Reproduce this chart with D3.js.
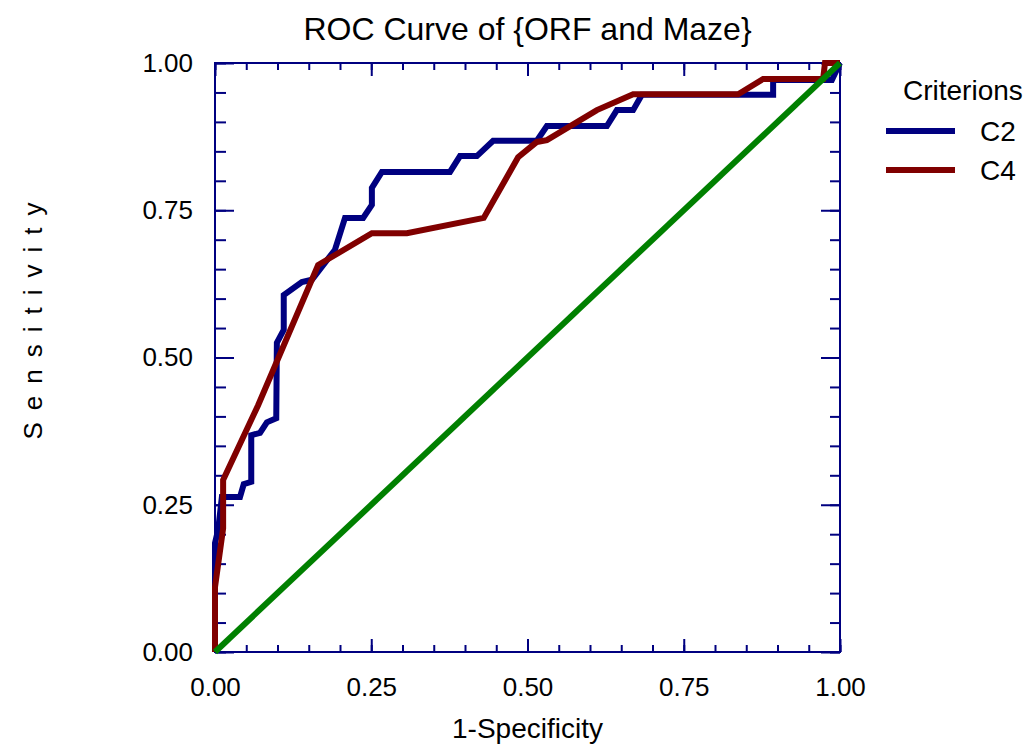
<!DOCTYPE html>
<html>
<head>
<meta charset="utf-8">
<script src="https://cdn.jsdelivr.net/npm/d3@7"></script>
<style>
  body { margin: 0; background: #fff; }
  text { font-family: "Liberation Sans", Arial, sans-serif; fill: #000; }
</style>
</head>
<body>
<div id="chart"></div>
<script>
var svgWidth = 1033;
var svgHeight = 751;

var margin = { top: 63, right: 193, bottom: 99, left: 215 };
var width = svgWidth - margin.left - margin.right;
var height = svgHeight - margin.top - margin.bottom;

// ROC points: [1-specificity, sensitivity]
var c2Points = [
  [0, 0], [0, 0.185], [0.005, 0.207], [0.011, 0.263], [0.04, 0.263],
  [0.046, 0.285], [0.058, 0.289], [0.058, 0.368], [0.072, 0.372],
  [0.083, 0.39], [0.098, 0.397], [0.099, 0.525], [0.11, 0.547],
  [0.11, 0.606], [0.139, 0.628], [0.155, 0.632], [0.192, 0.683],
  [0.208, 0.737], [0.237, 0.737], [0.251, 0.759], [0.251, 0.788],
  [0.267, 0.815], [0.376, 0.815], [0.392, 0.842], [0.419, 0.842],
  [0.445, 0.868], [0.515, 0.868], [0.531, 0.893], [0.627, 0.893],
  [0.643, 0.92], [0.669, 0.92], [0.683, 0.946], [0.893, 0.946],
  [0.893, 0.971], [0.987, 0.971], [1, 1]
];

var c4Points = [
  [0, 0], [0, 0.11], [0.013, 0.21], [0.013, 0.292], [0.069, 0.419],
  [0.165, 0.657], [0.184, 0.669], [0.251, 0.711], [0.307, 0.711],
  [0.43, 0.737], [0.485, 0.84], [0.515, 0.866], [0.531, 0.869],
  [0.611, 0.92], [0.669, 0.947], [0.837, 0.947], [0.877, 0.973],
  [0.973, 0.973], [0.976, 1], [1, 1]
];

var chancePoints = [[0, 0], [1, 1]];

var seriesNames = ["C2", "C4"];
var seriesColors = ["#000080", "#800000"];
var majorTicks = [0, 0.25, 0.5, 0.75, 1];
var minorTicks = d3.range(0, 1.0001, 0.05);

var axisColor = "#000080";

var svg = d3.select("#chart")
  .append("svg")
  .attr("width", svgWidth)
  .attr("height", svgHeight);

var chartGroup = svg.append("g")
  .attr("transform", `translate(${margin.left}, ${margin.top})`);

var x = d3.scaleLinear().domain([0, 1]).range([0, width]);
var y = d3.scaleLinear().domain([0, 1]).range([height, 0]);

// axes: minor ticks every 0.05, major every 0.25, all pointing inward
function styleAxis(g) {
  g.select(".domain").remove();
  g.selectAll(".tick line").attr("stroke", axisColor).attr("stroke-width", 2);
  g.selectAll(".tick text")
    .style("font-family", "'Liberation Sans', Arial, sans-serif")
    .style("font-size", "26px")
    .attr("fill", "#000");
}

var fmt = d3.format(".2f");

chartGroup.append("g")
  .attr("transform", `translate(0, ${height})`)
  .call(d3.axisBottom(x).tickValues(minorTicks).tickSize(-7).tickFormat(""))
  .call(styleAxis);
chartGroup.append("g")
  .attr("transform", `translate(0, ${height})`)
  .call(d3.axisBottom(x).tickValues(majorTicks).tickSize(-13).tickPadding(26).tickFormat(fmt))
  .call(styleAxis);

chartGroup.append("g")
  .call(d3.axisTop(x).tickValues(minorTicks).tickSize(-7).tickFormat(""))
  .call(styleAxis);
chartGroup.append("g")
  .call(d3.axisTop(x).tickValues(majorTicks).tickSize(-13).tickFormat(""))
  .call(styleAxis);

chartGroup.append("g")
  .call(d3.axisLeft(y).tickValues(minorTicks).tickSize(-11).tickFormat(""))
  .call(styleAxis);
chartGroup.append("g")
  .call(d3.axisLeft(y).tickValues(majorTicks).tickSize(-19).tickPadding(22).tickFormat(fmt))
  .call(styleAxis);

chartGroup.append("g")
  .attr("transform", `translate(${width}, 0)`)
  .call(d3.axisRight(y).tickValues(minorTicks).tickSize(-10).tickFormat(""))
  .call(styleAxis);
chartGroup.append("g")
  .attr("transform", `translate(${width}, 0)`)
  .call(d3.axisRight(y).tickValues(majorTicks).tickSize(-19).tickFormat(""))
  .call(styleAxis);

chartGroup.append("rect")
  .attr("width", width)
  .attr("height", height)
  .attr("fill", "none")
  .attr("stroke", axisColor)
  .attr("stroke-width", 2);

// curves
var line = d3.line()
  .x(d => x(d[0]))
  .y(d => y(d[1]));

[c2Points, c4Points].forEach(function(pts, i) {
  chartGroup.append("path")
    .datum(pts)
    .attr("d", line)
    .attr("fill", "none")
    .attr("stroke", seriesColors[i])
    .attr("stroke-width", 6)
    .attr("stroke-linejoin", "miter");
});

chartGroup.append("path")
  .datum(chancePoints)
  .attr("d", line)
  .attr("fill", "none")
  .attr("stroke", "#008000")
  .attr("stroke-width", 6);

// titles
svg.append("text")
  .attr("x", margin.left + width / 2)
  .attr("y", 40)
  .attr("text-anchor", "middle")
  .style("font-size", "32px")
  .text("ROC Curve of {ORF and Maze}");

svg.append("text")
  .attr("x", margin.left + width / 2)
  .attr("y", 738)
  .attr("text-anchor", "middle")
  .style("font-size", "28px")
  .text("1-Specificity");

svg.append("text")
  .attr("transform", "translate(42, 315) rotate(-90)")
  .attr("text-anchor", "middle")
  .style("font-size", "26px")
  .style("letter-spacing", "12px")
  .text("Sensitivity");

// legend
var legend = svg.append("g");
legend.append("text")
  .attr("x", 903)
  .attr("y", 100)
  .style("font-size", "28px")
  .text("Criterions");

seriesNames.forEach(function(name, i) {
  var ly = 131 + i * 39;
  legend.append("line")
    .attr("x1", 886).attr("x2", 955)
    .attr("y1", ly).attr("y2", ly)
    .attr("stroke", seriesColors[i])
    .attr("stroke-width", 6);
  legend.append("text")
    .attr("x", 980)
    .attr("y", ly + 10)
    .style("font-size", "28px")
    .text(name);
});
</script>
</body>
</html>
